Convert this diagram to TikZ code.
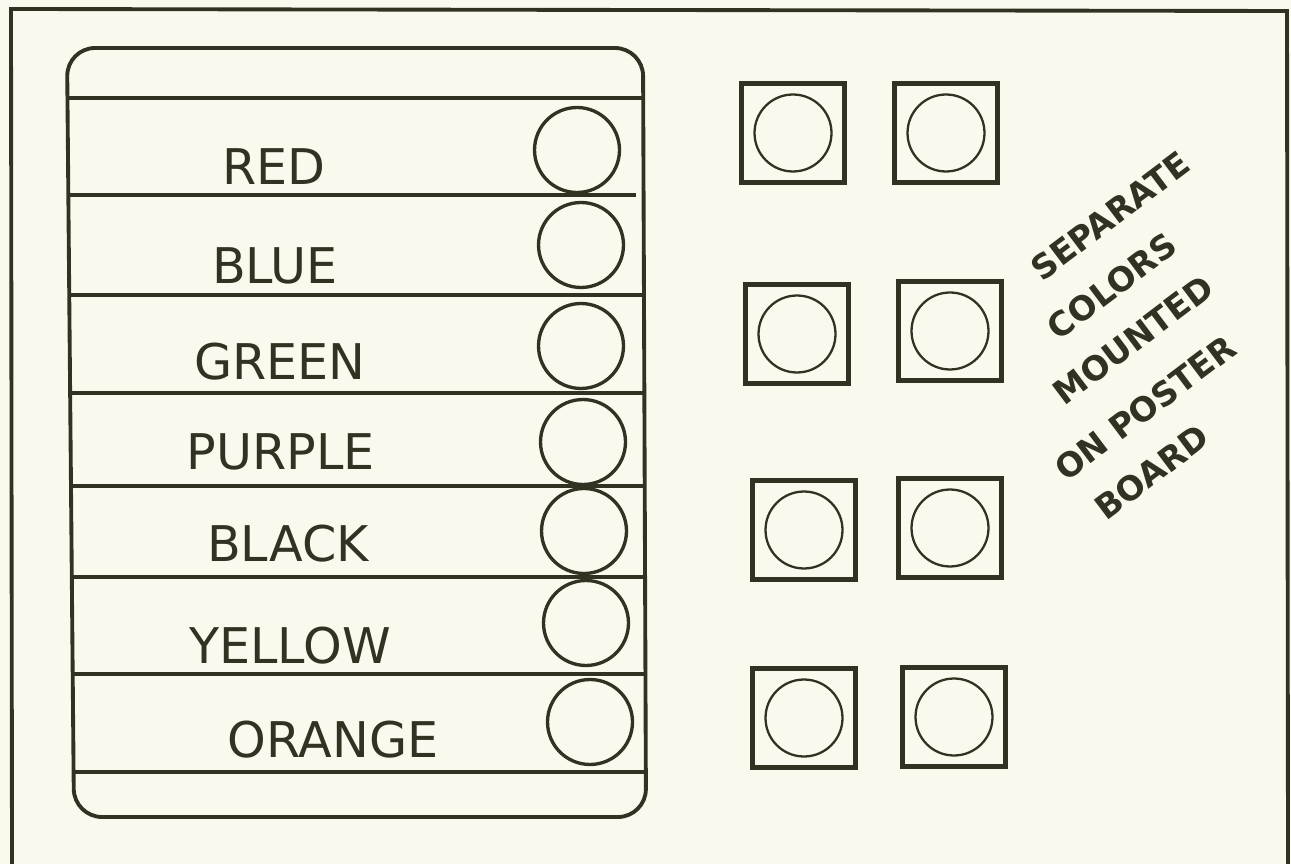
\documentclass[tikz,border=0pt]{standalone}
\usepackage{fontspec}
\setmainfont{DejaVu Sans}
\usetikzlibrary{positioning}

\definecolor{ink}{RGB}{50,50,34}
\definecolor{paper}{RGB}{251,249,237}

\begin{document}
\begin{tikzpicture}[
    x=0.02cm, y=-0.02cm,
    frame/.style={draw=ink, line width=2.2pt},
    rule/.style={draw=ink, line width=1.9pt},
    swatch/.style={circle, draw=ink, line width=1.9pt, minimum size=1.7cm, inner sep=0pt},
    mount/.style={rectangle, draw=ink, line width=3.2pt, minimum width=2.06cm, minimum height=1.98cm, inner sep=0pt},
    chip/.style={circle, draw=ink, line width=1.3pt, minimum size=1.54cm, inner sep=0pt},
    cname/.style={text=ink, font=\fontsize{28}{30}\selectfont},
    note/.style={text=ink, font=\bfseries\fontsize{19}{20}\selectfont, rotate=37, inner sep=0pt}
  ]
  % Paper and outer frame
  \fill[paper] (0,0) rectangle (1291,864);
  \useasboundingbox (0,0) rectangle (1291,864);
  \draw[frame] (12,866) -- (11,9) -- (1287,11) -- (1288,866);

  % Chart panel
  \draw[frame, rounded corners=16] (67,48) -- (643,48) -- (646,817) -- (74,817) -- cycle;
  \draw[rule] (67.5,98) -- (643.2,98);
  \draw[rule] (68.3,195) -- (636,195);
  \draw[rule] (69.2,295) -- (644,295);
  \draw[rule] (70.1,393) -- (644.4,393);
  \draw[rule] (71,486) -- (644.7,486);
  \draw[rule] (71.8,577) -- (645,577);
  \draw[rule] (72.7,674) -- (645.4,674);
  \draw[rule] (73.6,772) -- (645.8,772);

  % Colour names
  \node[cname] (lred) at (274,167) {RED};
  \node[cname] (lblue) at (275,266) {BLUE};
  \node[cname] (lgreen) at (280,362) {GREEN};
  \node[cname] (lpurple) at (281,452) {PURPLE};
  \node[cname] (lblack) at (288,544) {BLACK};
  \node[cname] (lyellow) at (290,646) {YELLOW};
  \node[cname] (lorange) at (333,740) {ORANGE};

  % Swatch circles
  \node[swatch] (sred) at (577,150) {};
  \node[swatch] (sblue) at (581,245) {};
  \node[swatch] (sgreen) at (581,346) {};
  \node[swatch] (spurple) at (583,442) {};
  \node[swatch] (sblack) at (584,531) {};
  \node[swatch] (syellow) at (586,623) {};
  \node[swatch] (sorange) at (590,722) {};

  % Mounted colours
  \node[mount] (b1l) at (793,133) {};
  \node[mount] (b1r) at (946,133) {};
  \node[mount] (b2l) at (797,334) {};
  \node[mount] (b2r) at (950,331) {};
  \node[mount] (b3l) at (804,530) {};
  \node[mount] (b3r) at (950,528) {};
  \node[mount] (b4l) at (804,718) {};
  \node[mount] (b4r) at (954,717) {};

  \node[chip] (k1l) at (b1l.center) {};
  \node[chip] (k1r) at (b1r.center) {};
  \node[chip] (k2l) at (b2l.center) {};
  \node[chip] (k2r) at (b2r.center) {};
  \node[chip] (k3l) at (b3l.center) {};
  \node[chip] (k3r) at (b3r.center) {};
  \node[chip] (k4l) at (b4l.center) {};
  \node[chip] (k4r) at (b4r.center) {};

  % Note
  \node[note] (n1) at (1110,216) {SEPARATE};
  \node[note] (n2) at (1112,286) {COLORS};
  \node[note] (n3) at (1133,340) {MOUNTED};
  \node[note] (n4) at (1145,408) {ON POSTER};
  \node[note] (n5) at (1152,472) {BOARD};
\end{tikzpicture}
\end{document}
